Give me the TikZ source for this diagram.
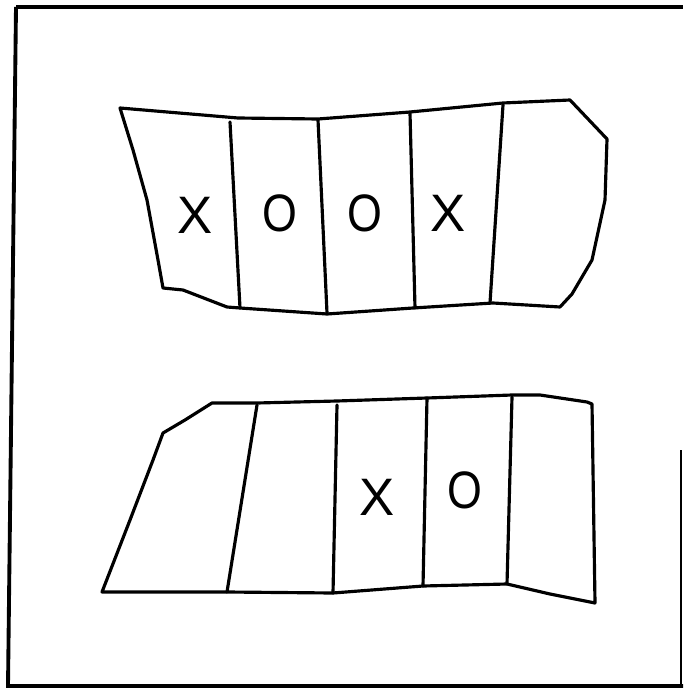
\documentclass[tikz,border=0pt]{standalone}
\usepackage{fontspec}
\setmainfont{Liberation Sans}
\usetikzlibrary{math}

\begin{document}
\begin{tikzpicture}[x=0.02cm,y=-0.02cm,
  pen/.style={line width=1.8pt, line join=round, line cap=round},
  letter/.style={inner sep=0pt, font=\fontsize{30}{30}\selectfont},
  ring/.style={letter, xscale=0.85}]
\tikzmath{
\W=683;
\H=689;
}
\useasboundingbox (0,0) rectangle (\W,\H);

% frame
\draw[line width=2.2pt] (16,7) -- (\W,7);
\draw[line width=2.2pt] (16,7) -- (8,686) -- (\W,686);
\draw[line width=1.2pt] (681,450) -- (681,686);

% upper strip
\draw[pen] (120,108) -- (238,118) -- (318,119) -- (410,112) -- (503,103) -- (570,100)
  -- (607,139) -- (605,200) -- (592,260) -- (572,294) -- (560,307)
  -- (493,303) -- (413,308) -- (327,314) -- (240,308) -- (227,307)
  -- (183,290) -- (163,288) -- (158,260) -- (147,200) -- (133,150) -- cycle;

\draw[pen] (230,122) -- (240,308);
\draw[pen] (318,120) -- (327,313);
\draw[pen] (410,113) -- (415,308);
\draw[pen] (503,105) -- (490,303);

\node[letter] (x1) at (195,215) {X};
\node[ring] (o1) at (280,213) {O};
\node[ring] (o2) at (365,213) {O};
\node[letter] (x2) at (448,213) {X};

% lower strip
\draw[pen] (212,403) -- (257,403) -- (337,401) -- (427,398) -- (512,395) -- (540,395)
  -- (587,402) -- (592,404) -- (595,603) -- (550,594) -- (507,584)
  -- (423,586) -- (333,593) -- (227,592) -- (102,592)
  -- (130,520) -- (153,460) -- (163,433) -- (185,420) -- cycle;

\draw[pen] (257,405) -- (227,592);
\draw[pen] (337,405) -- (333,593);
\draw[pen] (427,398) -- (423,586);
\draw[pen] (512,397) -- (507,584);

\node[letter] (x3) at (377,497) {X};
\node[ring] (o3) at (465,490) {O};

\end{tikzpicture}
\end{document}
